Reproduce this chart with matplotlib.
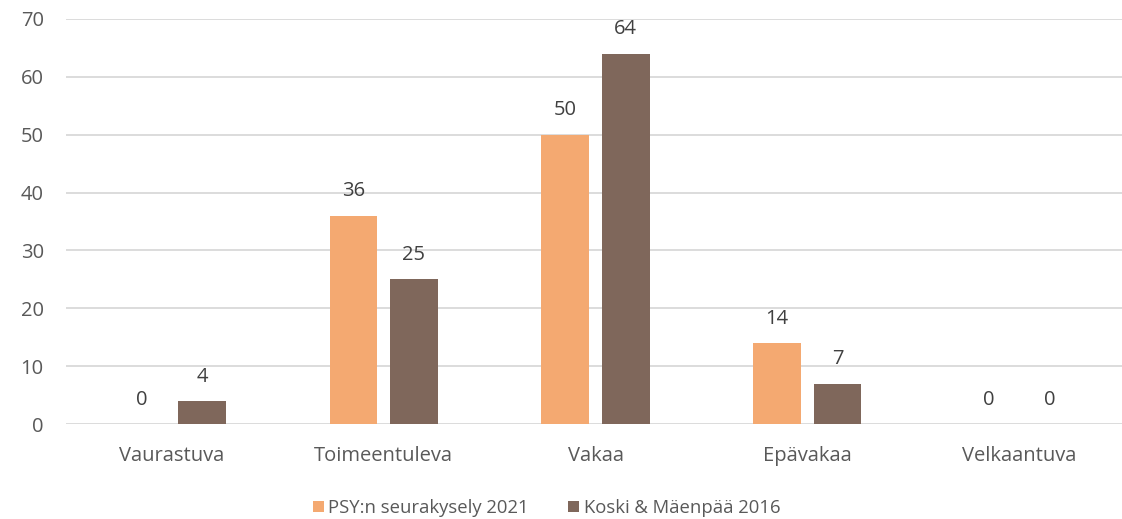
import numpy as np
import matplotlib
matplotlib.use('Agg')
import matplotlib.pyplot as plt

plt.rcParams['font.family'] = ['Open Sans', 'DejaVu Sans']

categories = ['Vaurastuva', 'Toimeentuleva', 'Vakaa', 'Epävakaa', 'Velkaantuva']
psy_2021 = [0, 36, 50, 14, 0]
koski_2016 = [4, 25, 64, 7, 0]
series_names = ['PSY:n seurakysely 2021', 'Koski & Mäenpää 2016']
yticks = [0, 10, 20, 30, 40, 50, 60, 70]

c_orange = '#F4A971'
c_brown = '#7F675B'
c_text = '#595959'
fs = 14.5

fig = plt.figure(figsize=(11.22, 5.19), dpi=100)
# plot area runs slightly past the right edge of the picture, like the original crop
ax = fig.add_axes([66 / 1122, 1 - 424 / 519, 1059 / 1122, 405 / 519])

x = np.arange(len(categories))
w = 0.224
off = 0.143
b1 = ax.bar(x - off, psy_2021, w, color=c_orange, label=series_names[0], zorder=3)
b2 = ax.bar(x + off, koski_2016, w, color=c_brown, label=series_names[1], zorder=3)

for bars in (b1, b2):
    for rect in bars:
        h = rect.get_height()
        ax.annotate('%d' % h, (rect.get_x() + rect.get_width() / 2, h),
                    xytext=(0, 17.5), textcoords='offset points',
                    ha='center', va='center', fontsize=fs, color='#404040')

ax.set_xlim(-0.5, len(categories) - 0.5)
ax.set_ylim(0, 70)
ax.set_yticks(yticks)
ax.set_yticklabels([str(t) for t in yticks], fontsize=fs, color=c_text)
ax.set_xticks(x)
ax.set_xticklabels(categories, fontsize=fs, color=c_text)
ax.tick_params(axis='both', length=0)
ax.tick_params(axis='y', pad=16)
ax.tick_params(axis='x', pad=16)
ax.grid(axis='y', color='#D9D9D9', linewidth=1.3, zorder=0)
for s in ax.spines.values():
    s.set_visible(False)

leg = fig.legend(loc='center', bbox_to_anchor=(0.487, 0.021), ncol=2, frameon=False,
                 fontsize=13.3, handlelength=0.6, handleheight=0.6, handletextpad=0.25,
                 columnspacing=2.1, borderpad=0)
for t in leg.get_texts():
    t.set_color(c_text)

fig.savefig('out.png', dpi=100)
